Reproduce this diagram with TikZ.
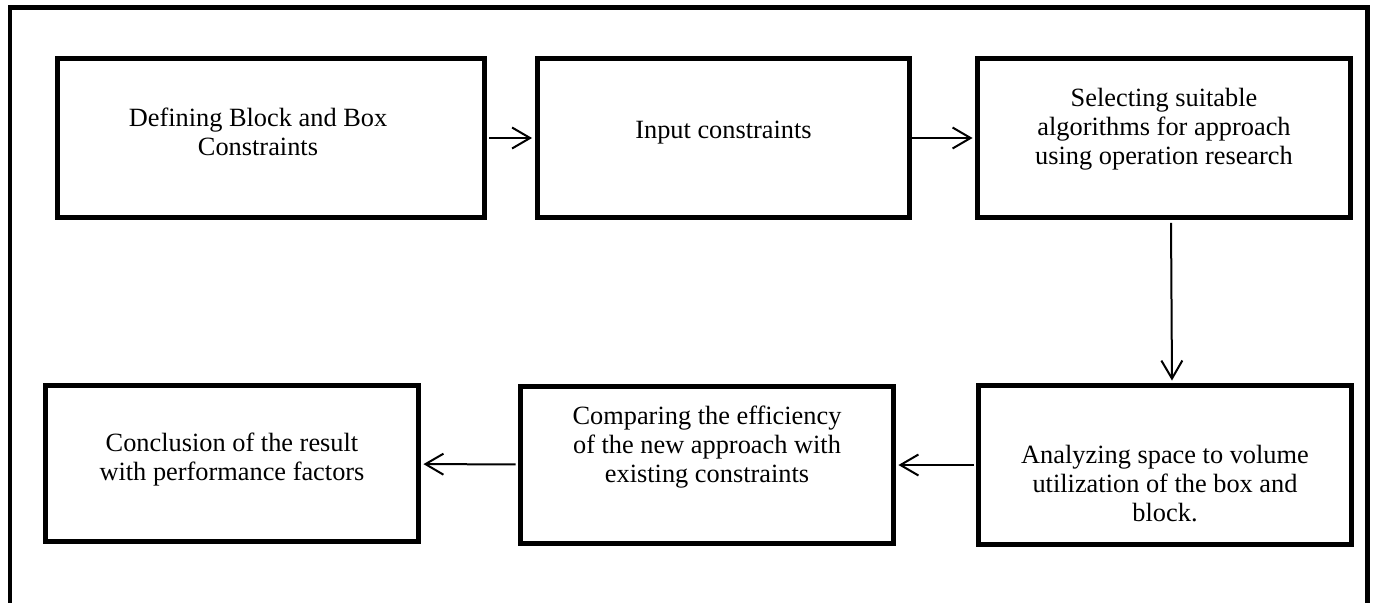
\documentclass[tikz,border=0pt]{standalone}
\usepackage{fontspec}
\setmainfont{Liberation Serif}
\usetikzlibrary{arrows.meta}
\usetikzlibrary{positioning}

\begin{document}
\begin{tikzpicture}[x=0.02cm, y=-0.02cm,
	blk/.style={draw, line width=0.1cm, minimum width=7.46cm, minimum height=3.2cm, inner sep=0pt},
	txt/.style={align=center, inner sep=0pt, font=\fontsize{15}{16.5}\selectfont},
	flow/.style={-{Straight Barb[length=3.6mm, width=4.2mm]}, line width=0.04cm, shorten >=0.05cm, shorten <=0.05cm}]
\useasboundingbox (0,0) rectangle (1375,602);
% outer frame, open at the bottom
\draw[line width=0.1cm] (10,640) -- (10,7.5) -- (1367,7.5) -- (1367,640);

% top row
\node[blk, minimum width=8.54cm] (def) at (271,138) {};
\node[blk] (inp) at (723.5,138) {};
\node[blk] (sel) at (1164,138) {};
% bottom row
\node[blk, minimum height=3.14cm] (con) at (232,463.5) {};
\node[blk, minimum height=3.16cm] (cmp) at (707,465) {};
\node[blk, minimum height=3.18cm] (ana) at (1165,465) {};

% texts
\node[txt] (defT) at (258,132) {Defining Block and Box\\Constraints};
\node[txt] (inpT) at (723.5,133) {Input constraints};
\node[txt] (selT) at (1164,129) {Selecting suitable\\algorithms for approach\\using operation research};
\node[txt] (conT) at (232,460) {Conclusion of the result\\with performance factors};
\node[txt] (cmpT) at (707,447) {Comparing the efficiency\\of the new approach with\\existing constraints};
\node[txt] (anaT) at (1165,484) {Analyzing space to volume\\utilization of the box and\\block.};

% connectors
\draw[flow] (def) -- (inp);
\draw[flow] ([xshift=-0.15cm]inp.east) -- (sel.west);
\draw[flow] ([xshift=0.14cm]sel.south) -- ([xshift=0.14cm]ana.north);
\draw[flow] (ana) -- (cmp);
\draw[flow] (cmp) -- (con);
\end{tikzpicture}
\end{document}
